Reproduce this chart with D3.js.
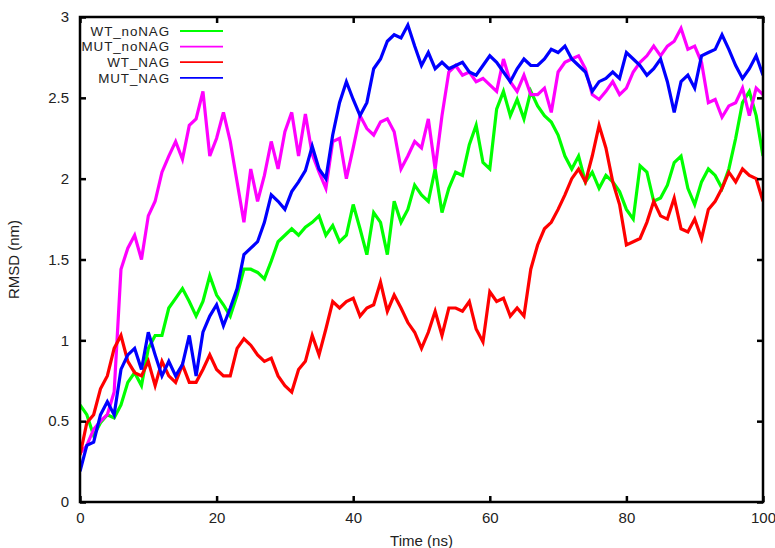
<!DOCTYPE html>
<html>
<head>
<meta charset="utf-8">
<script src="https://cdn.jsdelivr.net/npm/d3@7"></script>
<style>
  body { margin: 0; background: #fff; }
  text { font-family: "Liberation Sans", Arial, sans-serif; font-size: 15px; fill: #222; }
</style>
</head>
<body>
<div id="chart"></div>
<script>
// time (ns) for every reading, 1 ns apart
var times = d3.range(0, 101);

var wtNoNag = [0.6, 0.54, 0.41, 0.49, 0.54, 0.52, 0.6, 0.74, 0.8, 0.72,
    0.95, 1.03, 1.03, 1.2, 1.26, 1.32, 1.24, 1.15, 1.24, 1.4,
    1.28, 1.22, 1.15, 1.28, 1.44, 1.44, 1.42, 1.38, 1.49, 1.61,
    1.65, 1.69, 1.65, 1.7, 1.73, 1.77, 1.65, 1.71, 1.61, 1.65,
    1.84, 1.69, 1.53, 1.79, 1.73, 1.53, 1.86, 1.73, 1.81, 1.96,
    1.9, 1.86, 2.06, 1.79, 1.94, 2.04, 2.02, 2.21, 2.33, 2.1,
    2.06, 2.43, 2.54, 2.39, 2.49, 2.37, 2.54, 2.45, 2.39, 2.35,
    2.27, 2.14, 2.06, 2.14, 1.98, 2.04, 1.94, 2.02, 1.98, 1.92,
    1.81, 1.75, 2.08, 2.04, 1.86, 1.88, 1.96, 2.1, 2.14, 1.94,
    1.84, 1.98, 2.06, 2.02, 1.94, 2.06, 2.25, 2.47, 2.54, 2.39, 2.14];

var mutNoNag = [0.3, 0.35, 0.45, 0.5, 0.54, 0.68, 1.44, 1.57, 1.65, 1.5,
    1.77, 1.86, 2.04, 2.14, 2.23, 2.12, 2.33, 2.37, 2.54, 2.14,
    2.25, 2.41, 2.23, 1.98, 1.73, 2.06, 1.86, 2.02, 2.23, 2.06,
    2.29, 2.41, 2.14, 2.4, 2.15, 2.04, 1.94, 2.23, 2.25, 2.0,
    2.19, 2.39, 2.31, 2.27, 2.35, 2.37, 2.29, 2.06, 2.14, 2.23,
    2.19, 2.37, 2.06, 2.39, 2.66, 2.7, 2.64, 2.66, 2.6, 2.62,
    2.58, 2.54, 2.74, 2.6, 2.54, 2.64, 2.52, 2.52, 2.56, 2.41,
    2.66, 2.72, 2.74, 2.76, 2.68, 2.52, 2.49, 2.54, 2.6, 2.52,
    2.56, 2.66, 2.72, 2.76, 2.82, 2.76, 2.82, 2.85, 2.93, 2.8,
    2.82, 2.72, 2.47, 2.49, 2.38, 2.45, 2.47, 2.56, 2.39, 2.56, 2.52];

var wtNag = [0.29, 0.49, 0.54, 0.7, 0.78, 0.95, 1.03, 0.87, 0.8, 0.78,
    0.87, 0.72, 0.87, 0.78, 0.74, 0.85, 0.74, 0.74, 0.82, 0.91,
    0.82, 0.78, 0.78, 0.95, 1.01, 0.97, 0.91, 0.87, 0.89, 0.78,
    0.72, 0.68, 0.82, 0.87, 1.03, 0.91, 1.07, 1.24, 1.2, 1.24,
    1.26, 1.15, 1.2, 1.22, 1.36, 1.18, 1.28, 1.2, 1.11, 1.05,
    0.95, 1.05, 1.18, 1.03, 1.2, 1.2, 1.18, 1.24, 1.07, 0.99,
    1.3, 1.24, 1.26, 1.15, 1.2, 1.15, 1.44, 1.59, 1.69, 1.73,
    1.81, 1.9, 2.0, 2.06, 1.98, 2.14, 2.33, 2.19, 1.98, 1.84,
    1.59, 1.61, 1.63, 1.73, 1.86, 1.77, 1.75, 1.88, 1.69, 1.67,
    1.75, 1.63, 1.81, 1.86, 1.94, 2.04, 1.98, 2.06, 2.02, 2.0, 1.86];

var mutNag = [0.19, 0.35, 0.37, 0.54, 0.62, 0.54, 0.82, 0.91, 0.95, 0.82,
    1.05, 0.91, 0.78, 0.87, 0.78, 0.85, 1.03, 0.78, 1.05, 1.15,
    1.22, 1.09, 1.2, 1.32, 1.53, 1.57, 1.61, 1.73, 1.9, 1.86,
    1.81, 1.92, 1.98, 2.05, 2.2, 2.06, 2.0, 2.27, 2.47, 2.6,
    2.49, 2.39, 2.47, 2.68, 2.74, 2.85, 2.89, 2.87, 2.95, 2.82,
    2.7, 2.78, 2.68, 2.72, 2.68, 2.7, 2.72, 2.66, 2.64, 2.7,
    2.76, 2.72, 2.66, 2.6, 2.68, 2.74, 2.7, 2.7, 2.74, 2.8,
    2.78, 2.82, 2.74, 2.7, 2.66, 2.54, 2.6, 2.62, 2.66, 2.62,
    2.78, 2.74, 2.7, 2.64, 2.68, 2.74, 2.6, 2.41, 2.6, 2.64,
    2.56, 2.76, 2.78, 2.8, 2.89, 2.8, 2.7, 2.62, 2.68, 2.76, 2.64];

var seriesNames = ["WT_noNAG", "MUT_noNAG", "WT_NAG", "MUT_NAG"];
var seriesValues = [wtNoNag, mutNoNag, wtNag, mutNag];
var seriesColors = ["#00ff00", "#ff00ff", "#ff0000", "#0000ff"];

var xTicks = [0, 20, 40, 60, 80, 100];
var yTicks = [0, 0.5, 1, 1.5, 2, 2.5, 3];

const width = 775;
const height = 548;
const marginTop = 17;
const marginRight = 12;
const marginBottom = 46;
const marginLeft = 80;

const x = d3.scaleLinear()
    .domain([0, 100])
    .range([marginLeft, width - marginRight]);

const y = d3.scaleLinear()
    .domain([0, 3])
    .range([height - marginBottom, marginTop]);

const svg = d3.select("#chart").append("svg")
    .attr("width", width)
    .attr("height", height);

svg.append("defs").append("clipPath")
    .attr("id", "plot")
    .append("rect")
    .attr("x", marginLeft)
    .attr("y", marginTop)
    .attr("width", width - marginRight - marginLeft)
    .attr("height", height - marginBottom - marginTop);

// data lines, drawn in gnuplot order so blue ends on top
const line = d3.line()
    .x((d, i) => x(times[i]))
    .y(d => y(d));

svg.append("g")
    .attr("clip-path", "url(#plot)")
    .selectAll("path")
    .data(seriesValues)
    .join("path")
    .attr("fill", "none")
    .attr("stroke", (d, i) => seriesColors[i])
    .attr("stroke-width", 3.2)
    .attr("stroke-linejoin", "miter")
    .attr("d", line);

// axes: ticks inside, mirrored on top and right
const tick = 6;
svg.append("g")
    .attr("transform", `translate(0,${height - marginBottom})`)
    .call(d3.axisBottom(x).tickValues(xTicks).tickSize(-tick).tickPadding(10).tickFormat(d3.format("d")));

svg.append("g")
    .attr("transform", `translate(0,${marginTop})`)
    .call(d3.axisTop(x).tickValues(xTicks).tickSize(-tick).tickFormat(() => ""));

svg.append("g")
    .attr("transform", `translate(${marginLeft},0)`)
    .call(d3.axisLeft(y).tickValues(yTicks).tickSize(-tick).tickPadding(11).tickFormat(d => d));

svg.append("g")
    .attr("transform", `translate(${width - marginRight},0)`)
    .call(d3.axisRight(y).tickValues(yTicks).tickSize(-tick).tickFormat(() => ""));

svg.selectAll(".domain").remove();
svg.selectAll(".tick line").attr("stroke", "#000").attr("stroke-width", 2.5);
svg.selectAll(".tick text").style("font-size", "15px").attr("fill", "#222");

// frame
svg.append("rect")
    .attr("x", marginLeft)
    .attr("y", marginTop)
    .attr("width", width - marginRight - marginLeft)
    .attr("height", height - marginBottom - marginTop)
    .attr("fill", "none")
    .attr("stroke", "#000")
    .attr("stroke-width", 2.5);

// axis titles
svg.append("text")
    .attr("x", (marginLeft + width - marginRight) / 2)
    .attr("y", 546)
    .attr("text-anchor", "middle")
    .text("Time (ns)");

svg.append("text")
    .attr("transform", `translate(19,${(marginTop + height - marginBottom) / 2}) rotate(-90)`)
    .attr("text-anchor", "middle")
    .text("RMSD (nm)");

// legend (slightly smaller font so rows do not collide)
const legend = svg.append("g")
    .selectAll("g")
    .data(seriesNames)
    .join("g")
    .attr("transform", (d, i) => `translate(0,${31 + i * 15.6})`);

legend.append("text")
    .attr("x", 170)
    .attr("dy", "0.35em")
    .attr("text-anchor", "end")
    .style("font-size", "13.4px")
    .style("letter-spacing", "0.9px")
    .text(d => d);

legend.append("line")
    .attr("x1", 180)
    .attr("x2", 223)
    .attr("stroke", (d, i) => seriesColors[i])
    .attr("stroke-width", 1.8);
</script>
</body>
</html>
